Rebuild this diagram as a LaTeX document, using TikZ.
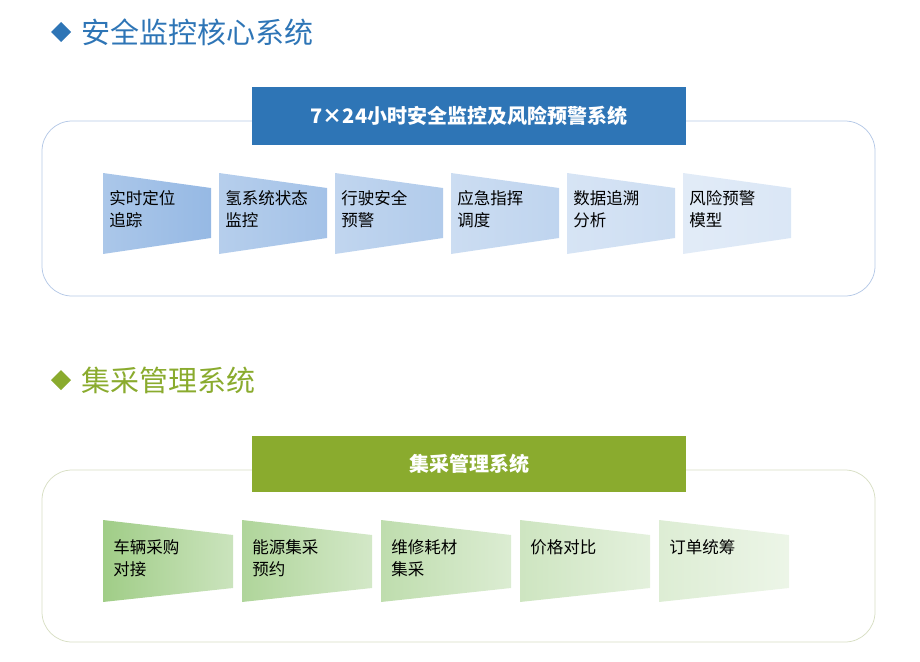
\documentclass[tikz,border=0pt]{standalone}
\usepackage{fontspec}
\setmainfont{Noto Sans CJK SC}
\definecolor{secblue}{RGB}{46,117,182}
\definecolor{secgreen}{RGB}{138,171,46}
\definecolor{frameblue}{RGB}{180,200,230}
\definecolor{framegreen}{RGB}{215,222,195}
\definecolor{boxblue}{RGB}{150,185,228}
\definecolor{boxgreen}{RGB}{160,205,135}
\tikzset{every picture/.style={line width=0.75pt}}
\tikzset{
  heading/.style={anchor=west,inner sep=0pt,font=\fontsize{29}{32}\selectfont},
  banner/.style={anchor=center,inner sep=0pt,font=\fontsize{20}{24}\selectfont\bfseries,text=white},
  itemtext/.style={anchor=north west,inner sep=0pt,align=left,font=\fontsize{16.5}{22}\selectfont}
}
\begin{document}
\begin{tikzpicture}[x=1pt,y=1pt,yscale=-1,xscale=1]
\useasboundingbox (0,0) rectangle (920,661);

% headings
\fill[secblue] (61,22) -- (71,32) -- (61,42) -- (51,32) -- cycle;
\node[heading,text=secblue] (headsafe) at (81,32) {安全监控核心系统};
\fill[secgreen] (61,370) -- (71,380) -- (61,390) -- (51,380) -- cycle;
\node[heading,text=secgreen] (headbuy) at (81,380) {集采管理系统};

% frames
\draw[frameblue,rounded corners=30] (42,121) rectangle (875,296);
\draw[framegreen,rounded corners=30] (42,470) rectangle (875,642);

% banners
\fill[secblue] (252,87) rectangle (686,145);
\node[banner] (bannersafe) at (469,116) {7×24小时安全监控及风险预警系统};
\fill[secgreen] (252,436) rectangle (686,492);
\node[banner] (bannerbuy) at (469,464) {集采管理系统};

% safety items
\foreach \i/\txt in {0/{实时定位\\追踪},1/{氢系统状态\\监控},2/{行驶安全\\预警},3/{应急指挥\\调度},4/{数据追溯\\分析},5/{风险预警\\模型}}{
  \pgfmathsetmacro{\xl}{103+116*\i}
  \pgfmathsetmacro{\mix}{100-13*\i}
  \shade[left color=boxblue!\mix!white!80!white,right color=boxblue!\mix!white] (\xl,173) -- (\xl+108,188) -- (\xl+108,238) -- (\xl,254) -- cycle;
  \node[itemtext] (safe\i) at (\xl+6,190) {\txt};
}

% procurement items
\foreach \i/\txt in {0/{车辆采购\\对接},1/{能源集采\\预约},2/{维修耗材\\集采},3/{价格对比},4/{订单统筹}}{
  \pgfmathsetmacro{\xl}{103+139*\i}
  \pgfmathsetmacro{\mix}{100-16*\i}
  \shade[left color=boxgreen!\mix!white,right color=boxgreen!\mix!white!55!white] (\xl,520) -- (\xl+130,535) -- (\xl+130,588) -- (\xl,602) -- cycle;
  \node[itemtext] (buy\i) at (\xl+10,539) {\txt};
}
\end{tikzpicture}
\end{document}
